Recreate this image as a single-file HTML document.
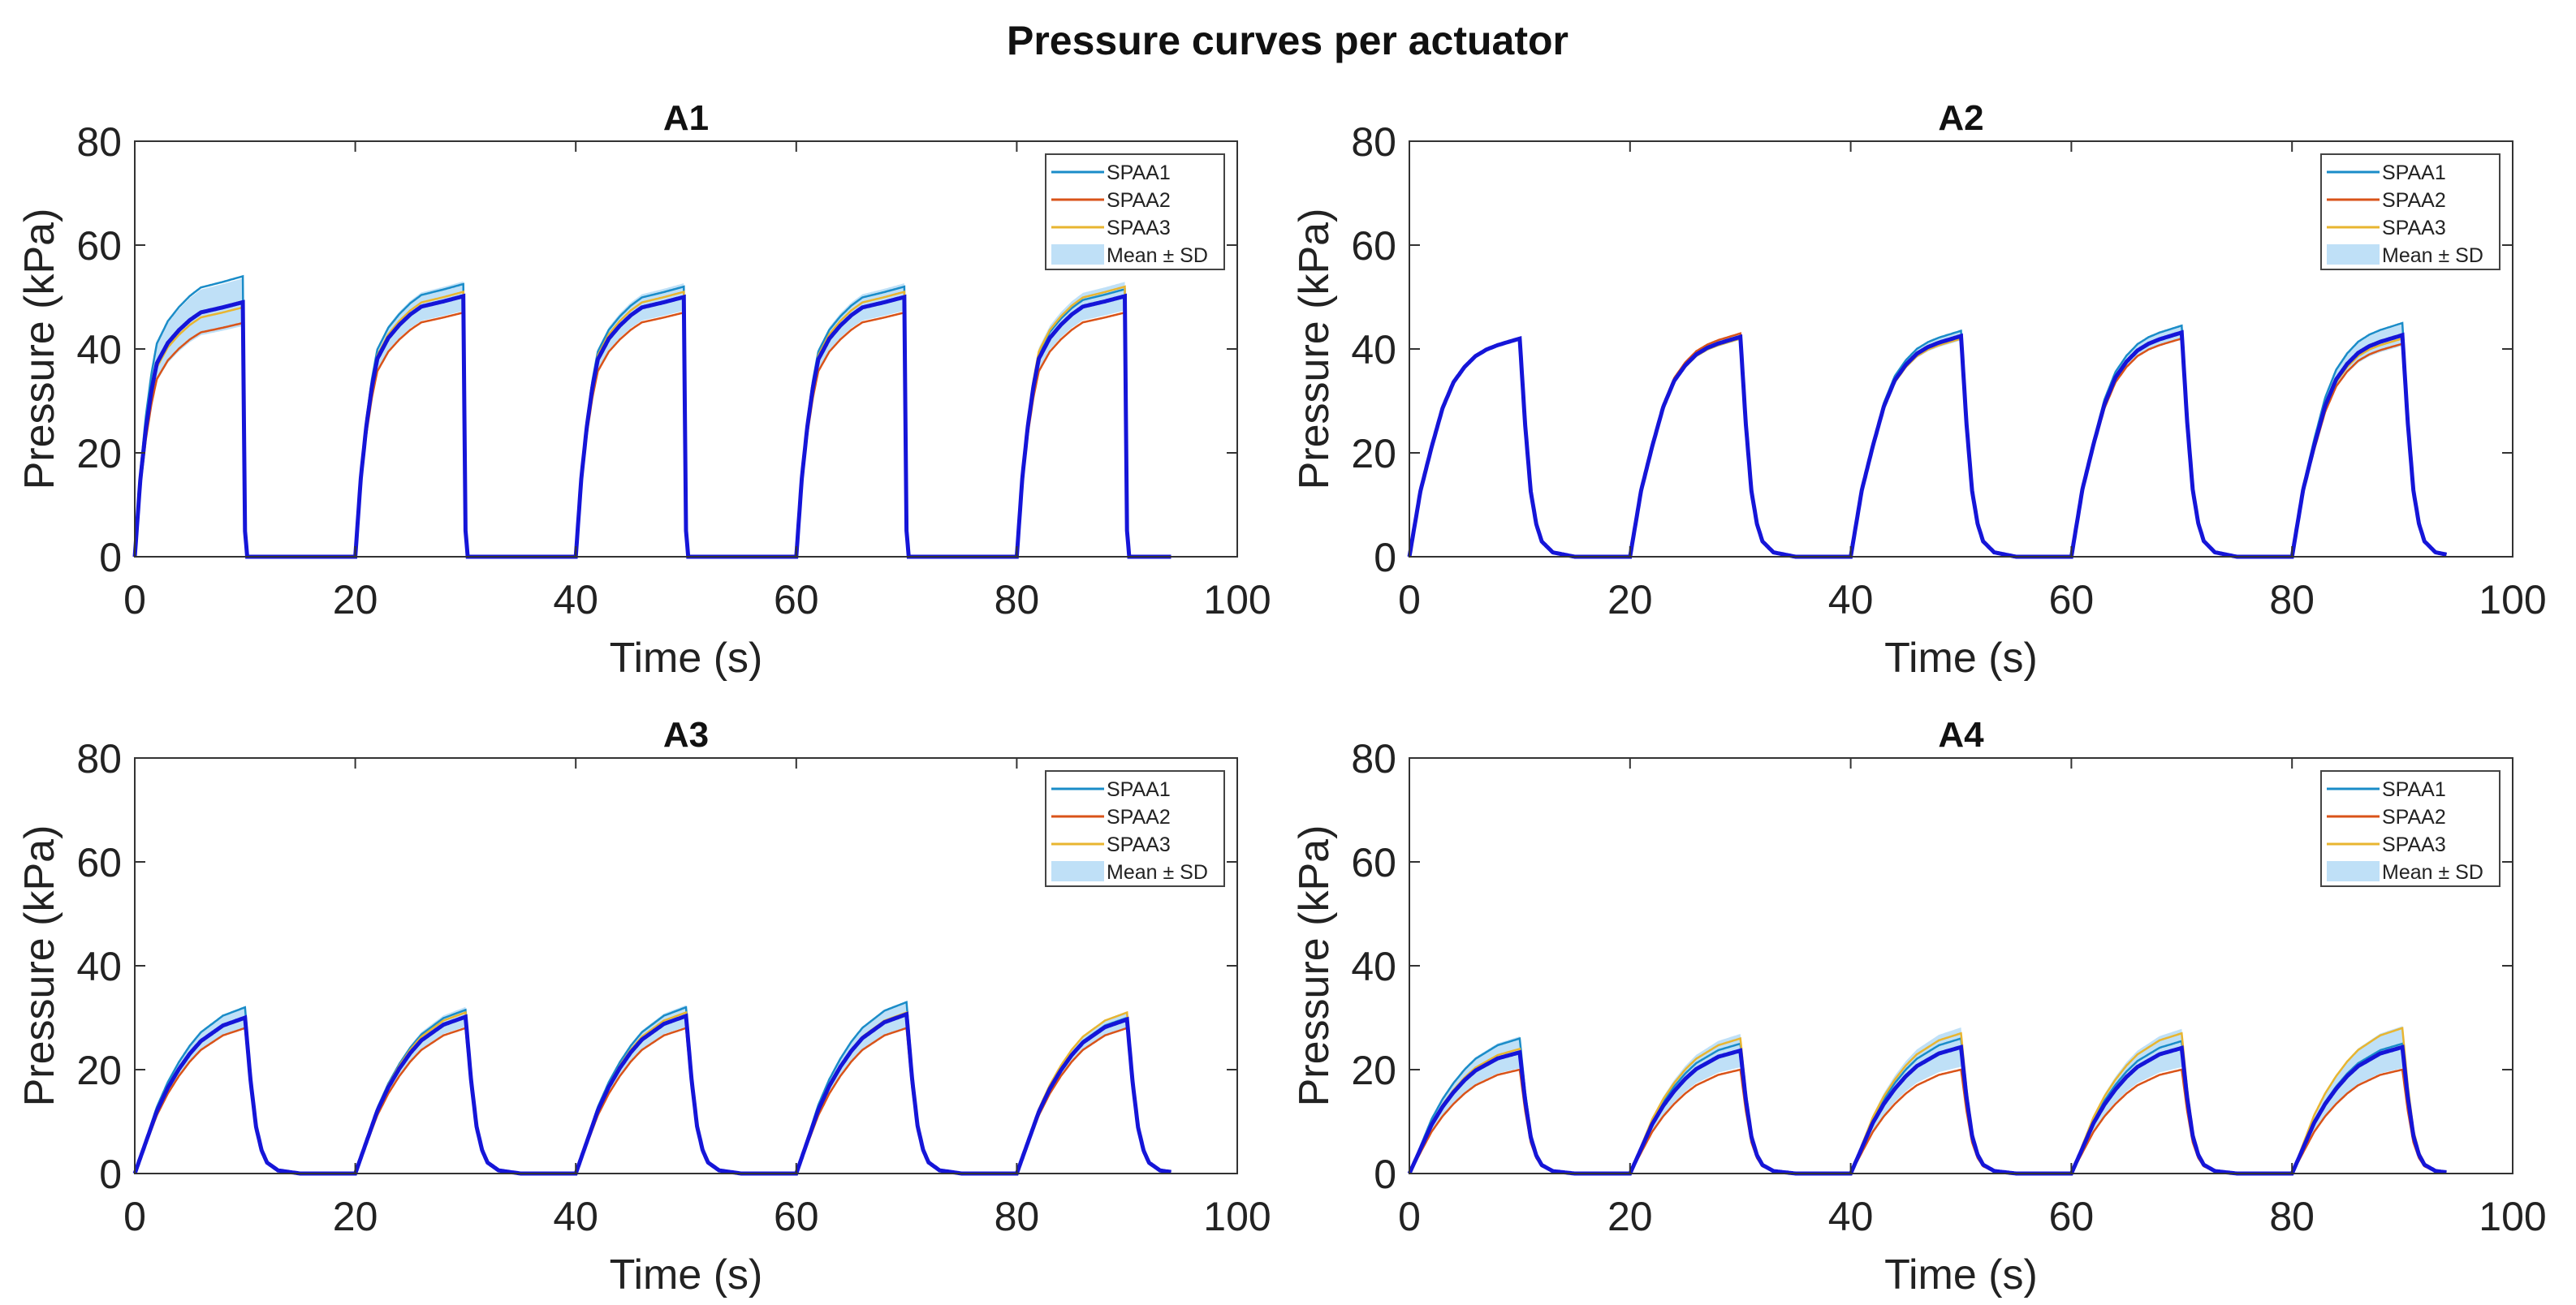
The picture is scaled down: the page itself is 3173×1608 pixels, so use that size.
<!DOCTYPE html>
<html><head><meta charset="utf-8">
<style>
html,body{margin:0;padding:0;background:#fff;}
svg{display:block;font-family:"Liberation Sans",Arial,sans-serif;}
</style></head>
<body>
<svg id="fig" width="3173" height="1608" viewBox="0 0 3173 1608" xmlns="http://www.w3.org/2000/svg">
<rect width="3173" height="1608" fill="#fff"/>
<text x="1586" y="67" text-anchor="middle" font-size="50" font-weight="bold" fill="#111">Pressure curves per actuator</text>
</svg>
<script>
// ---- data (plateau pressure per cycle, kPa) ----
const cycleStarts = [0, 20, 40, 60, 80];
const xTicks = [0, 20, 40, 60, 80, 100];
const yTicks = [0, 20, 40, 60, 80];
const panelNames = ["A1", "A2", "A3", "A4"];
const seriesNames = ["SPAA1", "SPAA2", "SPAA3"];
const a1Spaa1 = [54, 52.5, 52, 52, 51.5];
const a1Spaa2 = [45, 47, 47, 47, 47];
const a1Spaa3 = [48, 51, 51, 51, 52];
const a2Spaa1 = [42, 42, 43.5, 44.5, 45];
const a2Spaa2 = [42, 43, 42, 42, 41];
const a2Spaa3 = [42, 42, 42, 43, 42];
const a3Spaa1 = [32, 31.5, 32, 33, 30];
const a3Spaa2 = [28, 28, 28, 28, 28];
const a3Spaa3 = [30, 31, 31, 31, 31];
const a4Spaa1 = [26, 25, 26, 25.5, 25];
const a4Spaa2 = [20, 20, 20, 20, 20];
const a4Spaa3 = [24, 26, 27, 27, 28];
// normalized rise / decay shapes (time offset s, fraction of plateau)
const a1RiseT = [0, 0.5, 1, 1.5, 2, 3, 4, 5, 6, 8, 9.8];
const a1RiseF = [0, 0.3, 0.5, 0.65, 0.76, 0.84, 0.89, 0.93, 0.96, 0.98, 1];
const a1DecayT = [0, 0.2, 0.4];
const a1DecayF = [1, 0.1, 0];
const slowRiseT = [0, 1, 2, 3, 4, 5, 6, 7, 8, 10];
const a2RiseF = [0, 0.3, 0.5, 0.68, 0.8, 0.87, 0.92, 0.95, 0.97, 1];
const a34RiseF = [0, 0.2, 0.4, 0.55, 0.67, 0.77, 0.85, 0.9, 0.95, 1];
const slowDecayT = [0, 0.5, 1, 1.5, 2, 3, 4, 5];
const slowDecayF = [1, 0.6, 0.3, 0.15, 0.07, 0.02, 0.01, 0];
const endTime = 94;

const panels = [
  {name:"A1", x0:166, x1:1524, y0:174, y1:686, s:[a1Spaa1,a1Spaa2,a1Spaa3], rt:a1RiseT, rf:a1RiseF, dt:a1DecayT, df:a1DecayF},
  {name:"A2", x0:1736, x1:3095, y0:174, y1:686, s:[a2Spaa1,a2Spaa2,a2Spaa3], rt:slowRiseT, rf:a2RiseF, dt:slowDecayT, df:slowDecayF},
  {name:"A3", x0:166, x1:1524, y0:934, y1:1446, s:[a3Spaa1,a3Spaa2,a3Spaa3], rt:slowRiseT, rf:a34RiseF, dt:slowDecayT, df:slowDecayF},
  {name:"A4", x0:1736, x1:3095, y0:934, y1:1446, s:[a4Spaa1,a4Spaa2,a4Spaa3], rt:slowRiseT, rf:a34RiseF, dt:slowDecayT, df:slowDecayF}
];
const colors = ["#1a8cc8", "#d95319", "#e8b530"];
const NS = "http://www.w3.org/2000/svg";
const fig = document.getElementById("fig");
function mk(tag, attrs, parent){const e=document.createElementNS(NS,tag);for(const k in attrs)e.setAttribute(k,attrs[k]);(parent||fig).appendChild(e);return e;}
function interp(ts, fs, t){ if(t<=ts[0])return fs[0]; for(let i=1;i<ts.length;i++){ if(t<=ts[i]){const r=(t-ts[i-1])/(ts[i]-ts[i-1]);return fs[i-1]+r*(fs[i]-fs[i-1]);} } return fs[fs.length-1]; }
function val(p, plate, t){
  const k=Math.min(4,Math.floor(t/20)); const loc=t-cycleStarts[k];
  const rEnd=p.rt[p.rt.length-1];
  if(loc<=rEnd) return plate[k]*interp(p.rt,p.rf,loc);
  return plate[k]*interp(p.dt,p.df,loc-rEnd);
}
panels.forEach((p,pi)=>{
  const g=mk("g",{});
  
  
  const sx=v=>p.x0+(v-0)/(100-0)*(p.x1-p.x0);
  const sy=v=>p.y1-(v/80)*(p.y1-p.y0);
  const times=[]; for(let t=0;t<=endTime+1e-9;t+=0.1) times.push(+t.toFixed(2));
  const vals=p.s.map(pl=>times.map(t=>val(p,pl,t)));
  const mean=times.map((t,i)=>(vals[0][i]+vals[1][i]+vals[2][i])/3);
  const sd=times.map((t,i)=>Math.sqrt(((vals[0][i]-mean[i])**2+(vals[1][i]-mean[i])**2+(vals[2][i]-mean[i])**2)/2));
  let d="M"+times.map((t,i)=>sx(t).toFixed(1)+","+sy(mean[i]+sd[i]).toFixed(1)).join("L");
  for(let i=times.length-1;i>=0;i--) d+="L"+sx(times[i]).toFixed(1)+","+sy(mean[i]-sd[i]).toFixed(1);
  const sh=mk("path",{d:d+"Z",fill:"#bfe0f7"},g);
  
  
  vals.forEach((vs,si)=>{
    const l=mk("path",{d:"M"+times.map((t,i)=>sx(t).toFixed(1)+","+sy(vs[i]).toFixed(1)).join("L"),fill:"none",stroke:colors[si],"stroke-width":2.5},g);
    
    
  });
  const ml=mk("path",{d:"M"+times.map((t,i)=>sx(t).toFixed(1)+","+sy(mean[i]).toFixed(1)).join("L"),fill:"none",stroke:"#1515d8","stroke-width":5},g);
  
  
  const box=mk("rect",{x:p.x0,y:p.y0,width:p.x1-p.x0,height:p.y1-p.y0,fill:"none",stroke:"#333","stroke-width":2},g);
  
  
  xTicks.forEach(v=>{
    mk("line",{x1:sx(v),x2:sx(v),y1:p.y1,y2:p.y1-13,stroke:"#333","stroke-width":2},g);
    mk("line",{x1:sx(v),x2:sx(v),y1:p.y0,y2:p.y0+13,stroke:"#333","stroke-width":2},g);
    const tx=mk("text",{x:sx(v),y:p.y1+70,"text-anchor":"middle","font-size":50,fill:"#222"},g);
    tx.textContent=v;
    
    
  });
  yTicks.forEach(v=>{
    mk("line",{x1:p.x0,x2:p.x0+13,y1:sy(v),y2:sy(v),stroke:"#333","stroke-width":2},g);
    mk("line",{x1:p.x1,x2:p.x1-13,y1:sy(v),y2:sy(v),stroke:"#333","stroke-width":2},g);
    const ty=mk("text",{x:p.x0-16,y:sy(v)+18,"text-anchor":"end","font-size":50,fill:"#222"},g);
    ty.textContent=v;
    
    
  });
  const tt=mk("text",{x:(p.x0+p.x1)/2,y:p.y0-14,"text-anchor":"middle","font-size":44,"font-weight":"bold",fill:"#111"},g);
  tt.textContent=p.name;
  
  
  const xl=mk("text",{x:(p.x0+p.x1)/2,y:p.y1+142,"text-anchor":"middle","font-size":52,fill:"#222"},g);
  xl.textContent="Time (s)";
  
  
  const yl=mk("text",{x:0,y:0,"text-anchor":"middle","font-size":52,fill:"#222",transform:`translate(${p.x0-100},${(p.y0+p.y1)/2}) rotate(-90)`},g);
  yl.textContent="Pressure (kPa)";
  
  
  const lx=p.x1-236, ly=p.y0+16;
  const lg=mk("g",{},g);
  
  
  mk("rect",{x:lx,y:ly,width:220,height:142,fill:"#fff",stroke:"#444","stroke-width":2},lg);
  seriesNames.forEach((n,i)=>{
    const yy=ly+22+i*34;
    mk("line",{x1:lx+7,x2:lx+72,y1:yy,y2:yy,stroke:colors[i],"stroke-width":3},lg);
    const t=mk("text",{x:lx+75,y:yy+9,"font-size":25,fill:"#222"},lg);
    t.textContent=n;
    
    
  });
  mk("rect",{x:lx+7,y:ly+111,width:65,height:25,fill:"#bfe0f7"},lg);
  const mt=mk("text",{x:lx+75,y:ly+133,"font-size":25,fill:"#222"},lg);
  mt.textContent="Mean ± SD";
  
  
});
</script>
</body></html>
